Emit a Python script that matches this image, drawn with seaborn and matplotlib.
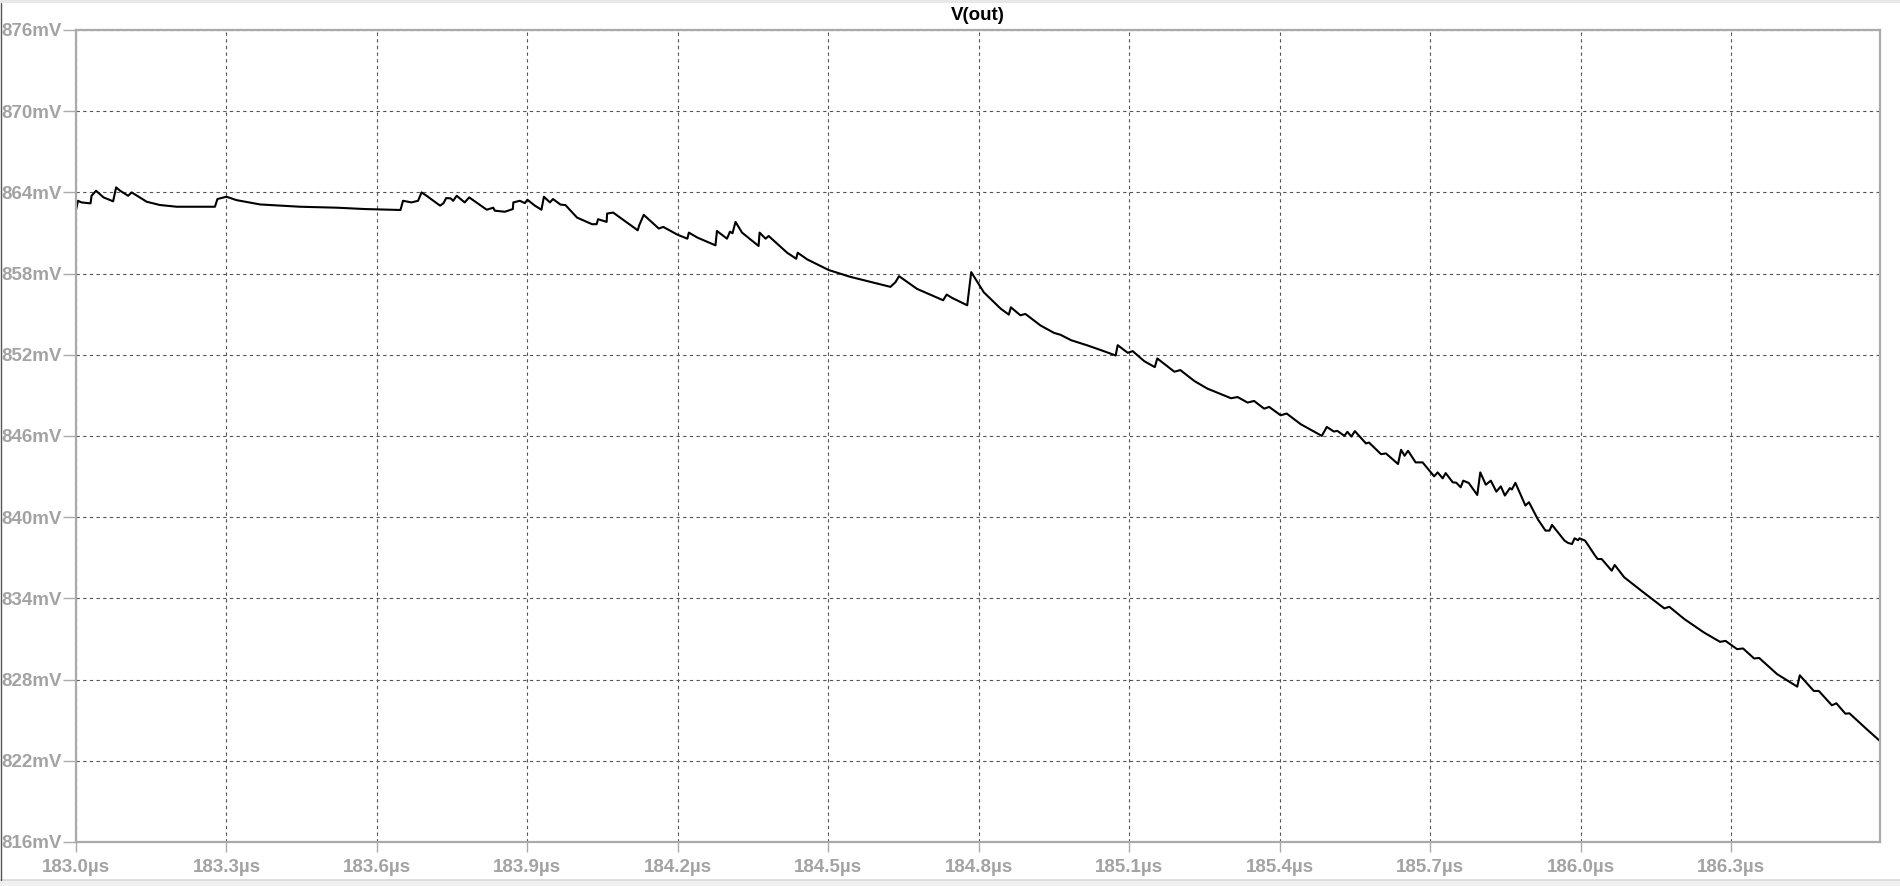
import numpy as np
import pandas as pd
import matplotlib
matplotlib.use("Agg")
import matplotlib.pyplot as plt
import seaborn as sns
from matplotlib.patches import Rectangle
from matplotlib.lines import Line2D

# V(out) transient (time in us, voltage in mV)
time_us = [
    183.000, 183.004, 183.011, 183.029, 183.031, 183.040, 183.055, 183.074, 183.080, 183.088,
    183.104, 183.111, 183.141, 183.167, 183.201, 183.277, 183.282, 183.300, 183.320, 183.367,
    183.447, 183.520, 183.576, 183.647, 183.652, 183.669, 183.682, 183.689, 183.699, 183.726,
    183.733, 183.738, 183.747, 183.752, 183.759, 183.775, 183.784, 183.819, 183.832, 183.835,
    183.855, 183.871, 183.872, 183.885, 183.895, 183.900, 183.915, 183.928, 183.933, 183.945,
    183.951, 183.966, 183.976, 183.999, 184.029, 184.038, 184.041, 184.058, 184.059, 184.071,
    184.120, 184.123, 184.132, 184.162, 184.171, 184.199, 184.219, 184.222, 184.239, 184.275,
    184.278, 184.298, 184.304, 184.309, 184.315, 184.328, 184.361, 184.363, 184.375, 184.381,
    184.418, 184.436, 184.439, 184.458, 184.501, 184.544, 184.624, 184.634, 184.641, 184.677,
    184.729, 184.736, 184.747, 184.777, 184.785, 184.810, 184.844, 184.860, 184.864, 184.883,
    184.893, 184.923, 184.950, 184.963, 184.984, 185.017, 185.044, 185.073, 185.077, 185.097,
    185.107, 185.130, 185.151, 185.156, 185.190, 185.202, 185.230, 185.256, 185.303, 185.316,
    185.336, 185.349, 185.369, 185.379, 185.402, 185.414, 185.442, 185.484, 185.494, 185.508,
    185.515, 185.529, 185.535, 185.543, 185.550, 185.572, 185.578, 185.602, 185.612, 185.636,
    185.642, 185.649, 185.656, 185.671, 185.685, 185.708, 185.715, 185.725, 185.731, 185.745,
    185.752, 185.761, 185.766, 185.777, 185.794, 185.800, 185.811, 185.821, 185.832, 185.841,
    185.849, 185.859, 185.863, 185.870, 185.890, 185.897, 185.915, 185.930, 185.938, 185.943,
    185.968, 185.975, 185.983, 185.988, 185.995, 185.998, 186.009, 186.028, 186.034, 186.042,
    186.062, 186.068, 186.087, 186.121, 186.167, 186.177, 186.207, 186.246, 186.278, 186.289,
    186.312, 186.324, 186.346, 186.356, 186.392, 186.432, 186.437, 186.465, 186.475, 186.501,
    186.510, 186.528, 186.536, 186.571, 186.597,
]
v_out_mv = [
    862.70, 863.38, 863.26, 863.19, 863.75, 864.12, 863.63, 863.34, 864.37, 864.12,
    863.75, 864.00, 863.31, 863.07, 862.94, 862.94, 863.51, 863.68, 863.43, 863.11,
    862.94, 862.87, 862.77, 862.70, 863.38, 863.26, 863.38, 864.00, 863.75, 863.02,
    863.21, 863.58, 863.56, 863.38, 863.75, 863.26, 863.63, 862.72, 862.87, 862.65,
    862.57, 862.77, 863.26, 863.38, 863.21, 863.46, 863.02, 862.72, 863.68, 863.26,
    863.51, 863.10, 863.06, 862.14, 861.65, 861.65, 862.02, 861.82, 862.44, 862.51,
    861.20, 861.57, 862.34, 861.33, 861.45, 860.88, 860.58, 861.03, 860.66, 860.09,
    861.15, 860.58, 861.10, 860.98, 861.82, 861.03, 860.04, 861.03, 860.58, 860.78,
    859.54, 859.10, 859.54, 859.05, 858.26, 857.76, 857.02, 857.37, 857.81, 856.87,
    856.03, 856.45, 856.20, 855.66, 858.11, 856.62, 855.40, 854.97, 855.51, 854.92,
    855.02, 854.17, 853.62, 853.48, 853.08, 852.69, 852.34, 851.95, 852.71, 852.15,
    852.27, 851.53, 851.09, 851.73, 850.75, 850.87, 850.06, 849.50, 848.79, 848.88,
    848.47, 848.59, 848.02, 848.15, 847.53, 847.66, 846.87, 846.01, 846.67, 846.33,
    846.38, 846.01, 846.31, 845.96, 846.36, 845.45, 845.52, 844.66, 844.71, 843.93,
    844.98, 844.54, 844.91, 844.05, 844.05, 843.02, 843.31, 842.87, 843.26, 842.58,
    842.55, 842.21, 842.70, 842.53, 841.64, 843.31, 842.40, 842.70, 841.89, 842.28,
    841.60, 842.15, 842.05, 842.54, 840.86, 841.11, 839.83, 839.01, 839.01, 839.43,
    838.27, 838.10, 838.02, 838.44, 838.30, 838.44, 838.27, 837.21, 836.91, 836.91,
    836.05, 836.47, 835.56, 834.57, 833.26, 833.38, 832.47, 831.48, 830.79, 830.86,
    830.25, 830.30, 829.56, 829.60, 828.40, 827.48, 828.32, 827.16, 827.16, 826.10,
    826.25, 825.48, 825.51, 824.32, 823.46,
]

x_ticks = [183.0, 183.3, 183.6, 183.9, 184.2, 184.5, 184.8, 185.1, 185.4, 185.7, 186.0, 186.3]
y_ticks = [816, 822, 828, 834, 840, 846, 852, 858, 864, 870, 876]
x_range = (183.0, 186.597)
y_range = (816, 876)

df = pd.DataFrame({"t": time_us, "v": v_out_mv})

sns.set_theme(style="white")
plt.rcParams["font.family"] = ["Liberation Sans", "DejaVu Sans"]

frame_gray = "#aaaaaa"
label_gray = "#a3a3a3"

fig = plt.figure(figsize=(19, 8.86), dpi=100)
fig.patch.set_facecolor("white")
ax = fig.add_axes([76 / 1900, 1 - 842 / 886, (1880 - 76) / 1900, (842 - 30) / 886])

sns.lineplot(data=df, x="t", y="v", ax=ax, color="black", linewidth=1.5,
             estimator=None, sort=False)

ax.set_xlim(*x_range)
ax.set_ylim(*y_range)
ax.set_xticks(x_ticks)
ax.set_yticks(y_ticks)
ax.set_xticklabels([f"{t:.1f}µs" for t in x_ticks])
ax.set_yticklabels([f"{v}mV" for v in y_ticks])
ax.set_xlabel("")
ax.set_ylabel("")

ax.grid(True, color="#555555", linestyle=(0, (3, 3)), linewidth=0.8)
for s in ax.spines.values():
    s.set_color(frame_gray)
    s.set_linewidth(1.6)

ax.tick_params(axis="x", direction="out", length=7.5, width=1.0, color=frame_gray,
               pad=5, labelsize=13.5, labelcolor=label_gray, bottom=True)
ax.tick_params(axis="y", direction="out", length=9.5, width=1.0, color=frame_gray,
               pad=0.8, labelsize=13.5, labelcolor=label_gray, left=True)
for lab in ax.get_xticklabels() + ax.get_yticklabels():
    lab.set_fontweight("bold")

fig.text((76 + 1880) / 2 / 1900, 1 - 16 / 886, "V(out)", ha="center", va="center",
         fontsize=13.5, fontweight="bold", color="black")

# window chrome: top strip, bottom status strip, left border
fig.patches.append(Rectangle((0, 1 - 3 / 886), 1, 3 / 886, transform=fig.transFigure,
                             facecolor="#e8e8e8", edgecolor="none", zorder=0))
fig.patches.append(Rectangle((0, 0), 1, 6 / 886, transform=fig.transFigure,
                             facecolor="#f0f0f0", edgecolor="none", zorder=0))
fig.lines.append(Line2D([0, 1], [6 / 886, 6 / 886], transform=fig.transFigure,
                        color="#d8d8d8", linewidth=1.2))
fig.lines.append(Line2D([0.5 / 1900, 0.5 / 1900], [6 / 886, 1 - 3 / 886], transform=fig.transFigure,
                        color="#555555", linewidth=1.0))

fig.savefig("out.png", dpi=100)
